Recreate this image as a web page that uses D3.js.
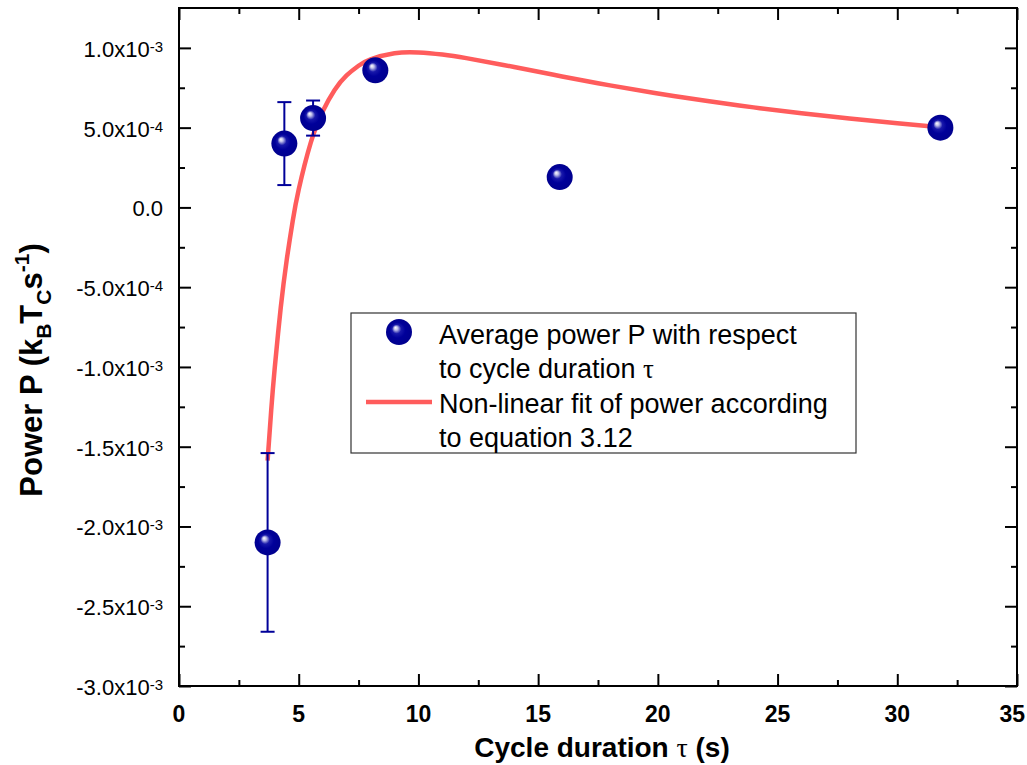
<!DOCTYPE html>
<html>
<head>
<meta charset="utf-8">
<script src="https://cdn.jsdelivr.net/npm/d3@7"></script>
<style>
  body { margin: 0; background: #fff; }
  svg { display: block; }
  text { font-family: "Liberation Sans", Arial, sans-serif; fill: #000; }
</style>
</head>
<body>
<div id="chart"></div>
<script>
(function(){
// measured points (P in units of 1e-3 kB Tc / s)
const tau = [3.7, 4.4, 5.6, 8.2, 15.9, 31.8];
const power = [-2.10, 0.40, 0.56, 0.86, 0.19, 0.50];
const powerErr = [0.56, 0.26, 0.11, 0, 0, 0];

// fit curve
const fitTau = [3.7, 3.85, 4.0, 4.25, 4.5, 4.75, 5.0, 5.5, 6.0, 6.5, 7.0, 7.5, 8.0, 9.0, 10, 11, 12, 14, 16, 18, 20, 22, 24, 26, 28, 30, 31.8];
const fitPower = [-1.587, -1.274, -1.004, -0.628, -0.328, -0.084, 0.112, 0.404, 0.601, 0.736, 0.827, 0.888, 0.928, 0.966, 0.971, 0.958, 0.936, 0.880, 0.821, 0.765, 0.714, 0.668, 0.627, 0.590, 0.557, 0.527, 0.503];

const xTicks = [0, 5, 10, 15, 20, 25, 30, 35];
const yTicks = [1.0, 0.5, 0, -0.5, -1.0, -1.5, -2.0, -2.5, -3.0];
const yTickMant = ["1.0", "5.0", "0.0", "-5.0", "-1.0", "-1.5", "-2.0", "-2.5", "-3.0"];
const yTickExp = ["-3", "-4", "", "-4", "-3", "-3", "-3", "-3", "-3"];

const legendLabels = [["Average power P with respect", "to cycle duration "], ["Non-linear fit of power according", "to equation 3.12"]];

const width = 1027, height = 765;
const margin = { top: 8, right: 10, bottom: 79, left: 179 };
const W = width - margin.left - margin.right;
const H = height - margin.top - margin.bottom;

const svg = d3.select("#chart").append("svg")
  .attr("width", width)
  .attr("height", height);

const defs = svg.append("defs");
const grad = defs.append("radialGradient")
  .attr("id", "ball")
  .attr("cx", "50%").attr("cy", "50%").attr("r", "50%")
  .attr("fx", "36%").attr("fy", "33%");
grad.append("stop").attr("offset", "0%").attr("stop-color", "#ffffff");
grad.append("stop").attr("offset", "14%").attr("stop-color", "#c0c0ea");
grad.append("stop").attr("offset", "35%").attr("stop-color", "#1818aa");
grad.append("stop").attr("offset", "60%").attr("stop-color", "#00009a");
grad.append("stop").attr("offset", "100%").attr("stop-color", "#00008e");

const g = svg.append("g").attr("transform", `translate(${margin.left},${margin.top})`);

const x = d3.scaleLinear().domain([0, 35]).range([0, W]);
const y = d3.scaleLinear().domain([-3.0, 1.25]).range([H, 0]);

// minor ticks
const xMinor = d3.range(2.5, 35, 5);
const yMinor = d3.range(-2.75, 1.25, 0.5);

// axes with inward ticks on all four sides
function tickAxis(axis, scale, ticks, size) {
  return axis(scale).tickValues(ticks).tickSize(size).tickFormat("");
}
const axes = g.append("g").attr("class", "axes");
axes.append("g").attr("transform", `translate(0,${H})`).call(tickAxis(d3.axisTop, x, xTicks, 12));
axes.append("g").attr("transform", `translate(0,${H})`).call(tickAxis(d3.axisTop, x, xMinor, 6));
axes.append("g").call(tickAxis(d3.axisBottom, x, xTicks, 12));
axes.append("g").call(tickAxis(d3.axisBottom, x, xMinor, 6));
axes.append("g").call(tickAxis(d3.axisRight, y, yTicks, 12));
axes.append("g").call(tickAxis(d3.axisRight, y, yMinor, 6));
axes.append("g").attr("transform", `translate(${W},0)`).call(tickAxis(d3.axisLeft, y, yTicks, 12));
axes.append("g").attr("transform", `translate(${W},0)`).call(tickAxis(d3.axisLeft, y, yMinor, 6));
axes.selectAll(".domain").remove();
axes.selectAll(".tick line").attr("stroke", "#000").attr("stroke-width", 2);

g.append("rect")
  .attr("width", W).attr("height", H)
  .attr("fill", "none").attr("stroke", "#000").attr("stroke-width", 2);

// x tick labels (last one pulled in so it stays on the page)
g.selectAll(".xlab").data(xTicks).enter().append("text")
  .attr("class", "xlab")
  .attr("x", (d, i) => i === xTicks.length - 1 ? width - margin.left - 2 : x(d))
  .attr("y", H + 36)
  .attr("text-anchor", (d, i) => i === xTicks.length - 1 ? "end" : "middle")
  .style("font-size", "23px").style("font-weight", "bold")
  .text(d => d);

// y tick labels with superscript exponent
const ylab = g.selectAll(".ylab").data(yTicks).enter().append("text")
  .attr("class", "ylab")
  .attr("x", -16).attr("y", d => y(d) + 9)
  .attr("text-anchor", "end")
  .style("font-size", "22px");
ylab.each(function(d, i) {
  const t = d3.select(this);
  if (yTickExp[i] === "") { t.text(yTickMant[i]); return; }
  t.append("tspan").text(yTickMant[i] + "x10");
  t.append("tspan").attr("dy", -5).style("font-size", "15px").text(yTickExp[i]);
});

// fit curve
const line = d3.line()
  .x((d, i) => x(fitTau[i]))
  .y(d => y(d))
  .curve(d3.curveNatural);
g.append("path")
  .datum(fitPower)
  .attr("d", line)
  .attr("fill", "none")
  .attr("stroke", "#ff5c5c")
  .attr("stroke-width", 4.5);

// error bars
const pts = tau.map((t, i) => ({ t: t, p: power[i], e: powerErr[i] })).filter(d => d.e > 0);
const eb = g.selectAll(".err").data(pts).enter().append("g").attr("class", "err")
  .attr("stroke", "#000099").attr("stroke-width", 2);
eb.append("line").attr("x1", d => x(d.t)).attr("x2", d => x(d.t))
  .attr("y1", d => y(d.p + d.e)).attr("y2", d => y(d.p - d.e));
eb.append("line").attr("x1", d => x(d.t) - 7).attr("x2", d => x(d.t) + 7)
  .attr("y1", d => y(d.p + d.e)).attr("y2", d => y(d.p + d.e));
eb.append("line").attr("x1", d => x(d.t) - 7).attr("x2", d => x(d.t) + 7)
  .attr("y1", d => y(d.p - d.e)).attr("y2", d => y(d.p - d.e));

// points
g.selectAll(".pt").data(tau).enter().append("circle")
  .attr("class", "pt")
  .attr("cx", d => x(d)).attr("cy", (d, i) => y(power[i]))
  .attr("r", 13)
  .attr("fill", "url(#ball)");

// legend
const leg = svg.append("g").attr("transform", "translate(351,313)");
leg.append("rect").attr("width", 505).attr("height", 140)
  .attr("fill", "#fff").attr("stroke", "#333").attr("stroke-width", 1.2);
leg.append("circle").attr("cx", 48).attr("cy", 19).attr("r", 13).attr("fill", "url(#ball)");
leg.append("line").attr("x1", 15).attr("x2", 81).attr("y1", 89).attr("y2", 89)
  .attr("stroke", "#ff5c5c").attr("stroke-width", 4.5);
const lt = leg.append("g").style("font-size", "27px");
lt.append("text").attr("x", 88).attr("y", 31).text(legendLabels[0][0]);
const l2 = lt.append("text").attr("x", 88).attr("y", 65).text(legendLabels[0][1]);
l2.append("tspan").style("font-family", "'Liberation Serif', serif").text("τ");
lt.append("text").attr("x", 88).attr("y", 100).text(legendLabels[1][0]);
lt.append("text").attr("x", 88).attr("y", 134).text(legendLabels[1][1]);

// axis titles
const xt = svg.append("text")
  .attr("x", 602).attr("y", 757)
  .attr("text-anchor", "middle")
  .style("font-size", "28px").style("font-weight", "bold");
xt.append("tspan").text("Cycle duration ");
xt.append("tspan").style("font-family", "'Liberation Serif', serif").style("font-weight", "normal").text("τ");
xt.append("tspan").text(" (s)");

const yt = svg.append("text")
  .attr("transform", "translate(42,370) rotate(-90)")
  .attr("text-anchor", "middle")
  .style("font-size", "31px").style("font-weight", "bold");
yt.append("tspan").text("Power P (k");
yt.append("tspan").attr("dy", 9).style("font-size", "21px").text("B");
yt.append("tspan").attr("dy", -9).text("T");
yt.append("tspan").attr("dy", 9).style("font-size", "21px").text("C");
yt.append("tspan").attr("dy", -9).text("s");
yt.append("tspan").attr("dy", -13).style("font-size", "21px").text("-1");
yt.append("tspan").attr("dy", 13).text(")");
})();
</script>
</body>
</html>
